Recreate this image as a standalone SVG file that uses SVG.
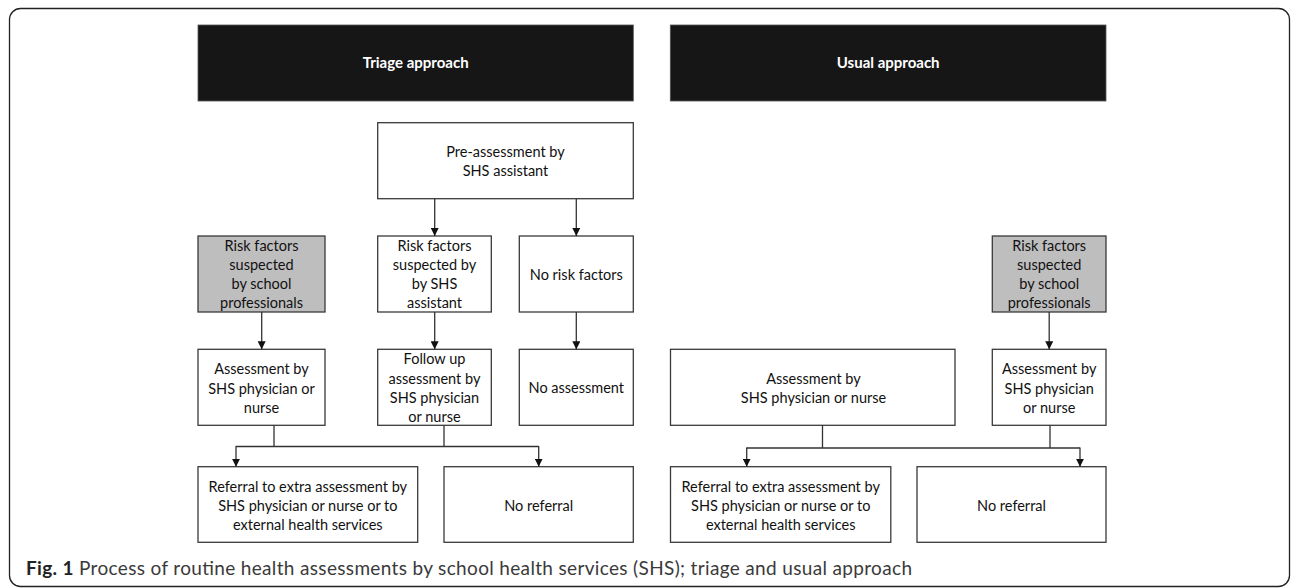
<svg xmlns="http://www.w3.org/2000/svg" width="1292" height="588" viewBox="0 0 1292 588">
<style>
.box{fill:#fff;stroke:#3a3a3a;stroke-width:1.3}
.grey{fill:#bebebe;stroke:#3a3a3a;stroke-width:1.3}
.hdr{fill:#161616;stroke:#555;stroke-width:0.8}
.t{font-family:Lato,"Liberation Sans",sans-serif;font-size:14.5px;fill:#111;text-anchor:middle}
.ht{font-family:Lato,"Liberation Sans",sans-serif;font-size:15px;font-weight:bold;fill:#fff;text-anchor:middle}
.c{fill:none;stroke:#333;stroke-width:1.3}
.a{fill:none;stroke:#333;stroke-width:1.3;marker-end:url(#ah)}
.cap{font-family:Lato,"Open Sans",sans-serif;font-size:19px;fill:#3a3a3a}
</style>
<defs>
<marker id="ah" markerUnits="userSpaceOnUse" markerWidth="8" markerHeight="8" refX="8" refY="4" orient="auto">
<path d="M0,0 L8,4 L0,8 z" fill="#111"/>
</marker>
</defs>
<rect x="9.5" y="8.5" width="1280" height="578" rx="11" fill="#fff" stroke="#222" stroke-width="1.3"/>

<g id="hdr-triage"><rect class="hdr" x="198" y="25" width="435.3" height="76"/><text class="ht" x="415.7" y="68">Triage approach</text></g>
<g id="hdr-usual"><rect class="hdr" x="670.3" y="25" width="435.7" height="76"/><text class="ht" x="888.2" y="68">Usual approach</text></g>

<g id="pre"><rect class="box" x="377.7" y="122.7" width="255.6" height="76"/><text class="t" x="505.5" y="156.7">Pre-assessment by</text><text class="t" x="505.5" y="175.7">SHS assistant</text></g>

<g id="grey-l"><rect class="grey" x="198" y="236" width="127" height="76"/><text class="t" x="261.5" y="250.7">Risk factors</text><text class="t" x="261.5" y="269.9">suspected</text><text class="t" x="261.5" y="289.1">by school</text><text class="t" x="261.5" y="308.3">professionals</text></g>
<g id="risk-shs"><rect class="box" x="377.7" y="236" width="113.6" height="76"/><text class="t" x="434.5" y="250.7">Risk factors</text><text class="t" x="434.5" y="269.9">suspected by</text><text class="t" x="434.5" y="289.1">by SHS</text><text class="t" x="434.5" y="308.3">assistant</text></g>
<g id="norisk"><rect class="box" x="519.3" y="236" width="114" height="76"/><text class="t" x="576.3" y="279.7">No risk factors</text></g>

<g id="assess-l"><rect class="box" x="198" y="349.3" width="127" height="76"/><text class="t" x="261.5" y="374.3">Assessment by</text><text class="t" x="261.5" y="393.5">SHS physician or</text><text class="t" x="261.5" y="412.7">nurse</text></g>
<g id="follow"><rect class="box" x="377.7" y="349.3" width="113.6" height="76"/><text class="t" x="434.5" y="364.3">Follow up</text><text class="t" x="434.5" y="383.6">assessment by</text><text class="t" x="434.5" y="402.9">SHS physician</text><text class="t" x="434.5" y="422.1">or nurse</text></g>
<g id="noassess"><rect class="box" x="519.3" y="349.3" width="114" height="76"/><text class="t" x="576.3" y="393.3">No assessment</text></g>

<g id="ref-l"><rect class="box" x="198" y="466.7" width="219.7" height="75.6"/><text class="t" x="307.8" y="491.7">Referral to extra assessment by</text><text class="t" x="307.8" y="510.8">SHS physician or nurse or to</text><text class="t" x="307.8" y="530">external health services</text></g>
<g id="noref-l"><rect class="box" x="444" y="466.7" width="189.3" height="75.6"/><text class="t" x="538.7" y="510.8">No referral</text></g>

<g id="grey-r"><rect class="grey" x="992.3" y="236" width="113.7" height="76"/><text class="t" x="1049.2" y="250.7">Risk factors</text><text class="t" x="1049.2" y="269.9">suspected</text><text class="t" x="1049.2" y="289.1">by school</text><text class="t" x="1049.2" y="308.3">professionals</text></g>
<g id="assess-u"><rect class="box" x="670.5" y="349.3" width="284.5" height="76"/><text class="t" x="813.5" y="383.7">Assessment by</text><text class="t" x="813.5" y="402.9">SHS physician or nurse</text></g>
<g id="assess-r"><rect class="box" x="992.3" y="349.3" width="113.7" height="76"/><text class="t" x="1049.2" y="374.3">Assessment by</text><text class="t" x="1049.2" y="393.5">SHS physician</text><text class="t" x="1049.2" y="412.7">or nurse</text></g>
<g id="ref-u"><rect class="box" x="670.5" y="466.7" width="220.3" height="75.6"/><text class="t" x="780.7" y="491.7">Referral to extra assessment by</text><text class="t" x="780.7" y="510.8">SHS physician or nurse or to</text><text class="t" x="780.7" y="530">external health services</text></g>
<g id="noref-u"><rect class="box" x="917" y="466.7" width="189" height="75.6"/><text class="t" x="1011.5" y="510.8">No referral</text></g>

<g id="connectors">
<path class="a" d="M434.7,198.7 V236"/>
<path class="a" d="M576.3,198.7 V236"/>
<path class="a" d="M261.7,312 V349.3"/>
<path class="a" d="M434.7,312 V349.3"/>
<path class="a" d="M576.3,312 V349.3"/>
<path class="c" d="M274,425.3 V446.5 M444,425.3 V446.5 M236,446.5 H538.7"/>
<path class="a" d="M236,446 V466.7"/>
<path class="a" d="M538.7,446 V466.7"/>
<path class="a" d="M1049.2,312 V349.3"/>
<path class="c" d="M822.5,425.3 V448 M1050,425.3 V448 M746.7,448 H1080"/>
<path class="a" d="M746.7,447.5 V466.7"/>
<path class="a" d="M1080,447.5 V466.7"/>
</g>

<text class="cap" x="26" y="575" textLength="886" lengthAdjust="spacing"><tspan font-weight="bold" fill="#222">Fig. 1</tspan> Process of routine health assessments by school health services (SHS); triage and usual approach</text>
</svg>
